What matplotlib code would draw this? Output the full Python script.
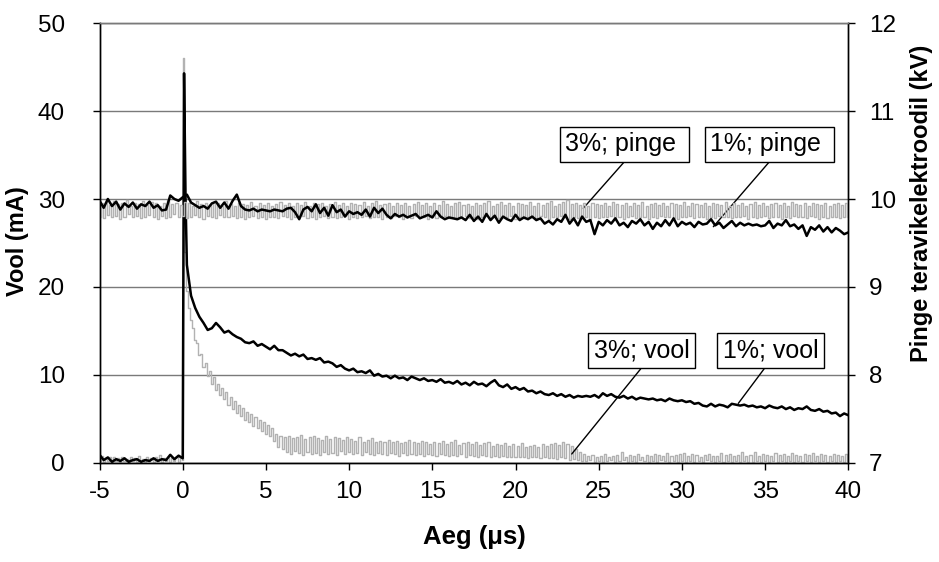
import numpy as np
import matplotlib
matplotlib.use("Agg")
import matplotlib.pyplot as plt

plt.rcParams['font.family'] = ['Liberation Sans', 'DejaVu Sans']
plt.rcParams['axes.unicode_minus'] = False

# ---------------- data ----------------
# sample times (microseconds)
# 1 % series: 0.25 us sampling
t1_cur = np.concatenate([np.arange(-5.0, 0.0, 0.25),      # 20
                         np.array([0.0, 0.08, 0.17]),      # pulse front
                         np.arange(0.25, 40.001, 0.25)])   # 160
t1_volt = np.arange(-5.0, 40.001, 0.25)                    # 181
# 3 % series: 0.125 us sampling
t3_cur = np.concatenate([np.arange(-5.0, 0.0, 0.125),     # 40
                         np.array([0.0, 0.06]),            # pulse front
                         np.arange(0.125, 40.001, 0.125)]) # 320
t3_volt = np.arange(-5.0, 40.001, 0.125)                   # 361

# current, 1 % (mA)
vool_1_pre = [0.9, 0.3, 0.6, 0.1, 0.4, 0.2, 0.5, 0.1, 0.3, 0.4,
              0.1, 0.3, 0.2, 0.5, 0.2, 0.4, 0.3, 0.9, 0.4, 0.8]
vool_1_spike = [0.5, 44.3, 30.0]
vool_1_post = [
    22.5, 19.0, 17.6, 16.6, 15.9, 15.1, 15.3, 15.9,
    15.4, 14.8, 15.0, 14.6, 14.3, 14.1, 13.7, 13.6,
    13.8, 13.3, 13.5, 13.2, 12.9, 13.3, 12.8, 12.8,
    12.5, 12.2, 12.4, 12.1, 12.3, 11.8, 11.9, 11.7,
    11.9, 11.4, 11.5, 11.3, 10.9, 11.1, 10.7, 10.5,
    10.7, 10.3, 10.4, 10.2, 10.5, 9.9, 10.1, 9.8,
    9.9, 9.6, 9.9, 9.6, 9.7, 9.4, 9.8, 9.6,
    9.4, 9.6, 9.3, 9.4, 9.2, 9.5, 9.1, 9.2,
    9.0, 9.3, 8.9, 9.1, 8.8, 9.2, 8.9, 9.0,
    8.7, 9.1, 9.4, 8.8, 8.6, 8.9, 8.4, 8.6,
    8.3, 8.5, 8.1, 8.2, 7.9, 8.1, 7.8, 7.7,
    7.9, 7.6, 7.8, 7.5, 7.7, 7.4, 7.6, 7.5,
    7.6, 7.5, 7.7, 7.4, 7.9, 7.6, 7.8, 7.5,
    7.4, 7.6, 7.3, 7.5, 7.2, 7.4, 7.3, 7.2,
    7.3, 7.1, 7.2, 7.0, 7.3, 7.1, 7.0, 7.1,
    6.9, 7.0, 6.7, 6.8, 6.5, 6.4, 6.7, 6.4,
    6.6, 6.5, 6.3, 6.7, 6.6, 6.5, 6.6, 6.4,
    6.5, 6.3, 6.4, 6.2, 6.5, 6.3, 6.2, 6.4,
    6.1, 6.3, 6.0, 6.2, 6.1, 6.4, 6.0, 5.9,
    6.1, 5.8, 5.9, 5.6, 5.7, 5.3, 5.6, 5.4]

# current, 3 % (mA)
vool_3_pre = [
    0.2, 0.8, 0.1, 0.5, 0.2, 0.7, 0.1, 0.6, 0.2, 0.5, 0.1, 0.7, 0.2, 0.4, 0.1, 0.6,
    0.2, 0.5, 0.1, 0.8, 0.2, 0.4, 0.1, 0.6, 0.2, 0.5, 0.1, 0.7, 0.2, 0.9, 0.1, 0.5,
    0.2, 0.6, 0.1, 0.5, 0.2, 0.7, 0.1, 0.6]
vool_3_spike = [0.3, 46.0]
vool_3_post = [
    24.0, 19.5, 17.6, 16.2, 15.3, 14.0, 13.6, 12.3, 12.4, 10.9, 11.3, 9.9, 10.4, 9.0, 9.7, 8.3,
    9.0, 7.7, 8.5, 7.2, 8.0, 6.6, 7.5, 6.1, 7.0, 5.7, 6.6, 5.3, 6.2, 4.9, 5.8, 4.6,
    5.5, 4.2, 5.2, 3.9, 4.9, 3.6, 4.6, 3.3, 4.3, 3.0, 4.0, 2.5, 3.3, 1.8, 3.0, 1.6,
    2.9, 1.2, 3.0, 1.0, 2.8, 1.3, 2.9, 1.1, 3.1, 0.9, 2.7, 1.2, 2.9, 1.0, 3.0, 1.1,
    2.8, 0.9, 2.6, 1.2, 3.0, 1.0, 2.7, 1.1, 2.9, 0.9, 2.8, 1.3, 2.6, 1.0, 2.9, 1.2,
    2.7, 1.0, 2.5, 1.1, 2.9, 0.9, 2.4, 1.2, 2.6, 1.0, 2.8, 0.9, 2.3, 1.1, 2.5, 1.0,
    2.4, 0.9, 2.6, 1.1, 2.3, 1.0, 2.5, 0.8, 2.2, 1.1, 2.4, 0.9, 2.6, 1.0, 2.3, 0.9,
    2.2, 1.0, 2.5, 0.8, 2.3, 1.0, 2.1, 0.9, 2.4, 0.8, 2.2, 1.0, 2.5, 0.9, 2.1, 0.8,
    2.3, 0.9, 2.6, 0.8, 2.0, 1.0, 2.2, 0.7, 2.4, 0.9, 2.1, 0.8, 2.3, 0.7, 2.0, 0.9,
    2.2, 0.8, 2.3, 0.7, 1.9, 0.8, 2.1, 0.6, 2.0, 0.8, 2.2, 0.7, 1.9, 0.6, 2.1, 0.7,
    1.9, 0.6, 2.2, 0.7, 1.8, 0.5, 1.9, 0.7, 2.0, 0.6, 1.8, 0.5, 2.1, 0.6, 1.9, 0.5,
    2.1, 0.5, 2.2, 0.4, 2.0, 0.6, 2.3, 0.5, 2.1, 0.3, 1.9, 0.4, 1.6, 0.3, 1.2, 0.2,
    1.0, 0.2, 0.8, 0.3, 0.9, 0.1, 0.7, 0.2, 0.8, 0.1, 1.0, 0.2, 0.7, 0.3, 0.8, 0.1,
    0.9, 0.2, 1.2, 0.3, 0.7, 0.1, 0.9, 0.2, 0.8, 0.1, 1.0, 0.3, 0.7, 0.2, 0.9, 0.1,
    0.8, 0.2, 1.0, 0.1, 0.9, 0.3, 0.8, 0.2, 1.1, 0.1, 0.8, 0.2, 0.9, 0.1, 1.0, 0.2,
    1.1, 0.1, 0.8, 0.2, 1.0, 0.1, 0.9, 0.2, 0.7, 0.1, 0.9, 0.3, 1.0, 0.2, 0.8, 0.1,
    0.8, 0.2, 1.1, 0.1, 0.9, 0.2, 1.0, 0.1, 0.8, 0.2, 0.9, 0.1, 1.2, 0.2, 0.8, 0.1,
    0.9, 0.1, 1.2, 0.2, 0.8, 0.1, 1.0, 0.2, 0.9, 0.1, 0.8, 0.2, 1.1, 0.1, 0.9, 0.2,
    1.0, 0.1, 0.8, 0.2, 1.1, 0.1, 0.9, 0.2, 0.8, 0.1, 1.0, 0.2, 0.9, 0.1, 1.1, 0.2,
    0.8, 0.1, 1.0, 0.2, 0.9, 0.1, 0.8, 0.2, 1.0, 0.1, 0.9, 0.2, 0.8, 0.1, 1.0, 0.2]

# voltage, 1 % (kV)
pinge_1 = [
    9.98, 9.90, 10.00, 9.92, 9.97, 9.88, 9.95, 9.91,
    9.96, 9.89, 9.94, 9.92, 9.97, 9.90, 9.93, 9.87,
    9.88, 10.04, 10.00, 9.98, 10.02, 10.05, 9.96, 9.93,
    9.90, 9.92, 9.89, 9.95, 9.97, 9.90, 9.96, 9.89,
    9.98, 10.05, 9.92, 9.88, 9.87, 9.89, 9.86, 9.88,
    9.87, 9.86, 9.88, 9.87, 9.86, 9.89, 9.90, 9.85,
    9.77, 9.88, 9.91, 9.86, 9.94, 9.84, 9.90, 9.81,
    9.93, 9.85, 9.88, 9.80, 9.86, 9.83, 9.85, 9.82,
    9.88, 9.80, 9.90, 9.84, 9.89, 9.82, 9.78, 9.83,
    9.80, 9.82, 9.79, 9.81, 9.83, 9.78, 9.80, 9.82,
    9.79, 9.86, 9.80, 9.77, 9.79, 9.78, 9.77, 9.79,
    9.76, 9.82, 9.75, 9.80, 9.74, 9.83, 9.76, 9.81,
    9.73, 9.80, 9.77, 9.75, 9.82, 9.76, 9.79, 9.77,
    9.80, 9.76, 9.78, 9.72, 9.75, 9.71, 9.77, 9.74,
    9.82, 9.72, 9.78, 9.70, 9.80, 9.74, 9.76, 9.60,
    9.74, 9.70, 9.76, 9.72, 9.78, 9.70, 9.73, 9.68,
    9.75, 9.72, 9.77, 9.70, 9.74, 9.66, 9.73, 9.69,
    9.76, 9.70, 9.78, 9.69, 9.74, 9.71, 9.73, 9.68,
    9.74, 9.71, 9.72, 9.77, 9.70, 9.73, 9.67, 9.71,
    9.75, 9.69, 9.73, 9.70, 9.72, 9.70, 9.71, 9.69,
    9.70, 9.75, 9.67, 9.72, 9.70, 9.76, 9.69, 9.71,
    9.66, 9.70, 9.58, 9.68, 9.65, 9.70, 9.63, 9.68,
    9.62, 9.67, 9.64, 9.60, 9.62]

# voltage, 3 % (kV)
pinge_3 = [
    9.80, 9.95, 9.78, 9.97, 9.82, 9.93, 9.79, 9.98, 9.81, 9.94, 9.77, 9.96, 9.80, 9.99, 9.83, 9.92,
    9.79, 9.96, 9.81, 9.94, 9.78, 9.98, 9.80, 9.93, 9.82, 9.97, 9.79, 9.95, 9.77, 9.92, 9.81, 9.96,
    9.78, 9.99, 9.80, 9.94, 9.83, 9.96, 9.79, 9.93, 9.81, 9.97, 9.78, 9.95, 9.80, 9.92, 9.82, 9.98,
    9.79, 9.94, 9.77, 9.96, 9.81, 9.93, 9.80, 9.97, 9.78, 9.95, 9.82, 9.92, 9.79, 9.98, 9.80, 9.94,
    9.81, 9.92, 9.78, 9.96, 9.80, 9.94, 9.77, 9.93, 9.79, 9.97, 9.81, 9.92, 9.78, 9.95, 9.80, 9.93,
    9.77, 9.96, 9.80, 9.92, 9.79, 9.94, 9.78, 9.97, 9.81, 9.93, 9.79, 9.95, 9.77, 9.92, 9.80, 9.96,
    9.79, 9.93, 9.81, 9.97, 9.78, 9.92, 9.80, 9.95, 9.77, 9.94, 9.79, 9.96, 9.81, 9.92, 9.78, 9.94,
    9.80, 9.97, 9.78, 9.93, 9.79, 9.95, 9.81, 9.92, 9.77, 9.96, 9.80, 9.94, 9.78, 9.93, 9.79, 9.97,
    9.81, 9.92, 9.78, 9.95, 9.80, 9.98, 9.79, 9.93, 9.77, 9.94, 9.80, 9.96, 9.78, 9.92, 9.81, 9.95,
    9.79, 9.93, 9.77, 9.96, 9.80, 9.92, 9.78, 9.94, 9.81, 9.97, 9.79, 9.93, 9.80, 9.95, 9.77, 9.92,
    9.80, 9.96, 9.78, 9.93, 9.79, 9.98, 9.81, 9.94, 9.78, 9.92, 9.80, 9.95, 9.77, 9.97, 9.79, 9.93,
    9.81, 9.94, 9.78, 9.92, 9.80, 9.96, 9.77, 9.93, 9.79, 9.95, 9.81, 9.98, 9.78, 9.92, 9.80, 9.94,
    9.78, 9.97, 9.80, 9.93, 9.79, 9.95, 9.81, 9.92, 9.77, 9.96, 9.80, 9.94, 9.78, 9.93, 9.79, 9.97,
    9.80, 9.92, 9.78, 9.96, 9.81, 9.93, 9.79, 9.95, 9.77, 9.98, 9.80, 9.92, 9.79, 9.94, 9.81, 9.97,
    9.79, 9.99, 9.77, 9.94, 9.80, 9.96, 9.78, 9.93, 9.81, 9.95, 9.79, 9.92, 9.77, 9.96, 9.80, 9.94,
    9.78, 9.93, 9.80, 9.95, 9.79, 9.92, 9.81, 9.97, 9.78, 9.94, 9.80, 9.93, 9.77, 9.96, 9.79, 9.92,
    9.81, 9.95, 9.78, 9.93, 9.80, 9.97, 9.79, 9.92, 9.77, 9.94, 9.80, 9.96, 9.78, 9.93, 9.81, 9.95,
    9.79, 9.92, 9.80, 9.96, 9.78, 9.94, 9.77, 9.93, 9.80, 9.97, 9.79, 9.92, 9.81, 9.95, 9.78, 9.94,
    9.80, 9.93, 9.79, 9.95, 9.77, 9.92, 9.80, 9.96, 9.78, 9.94, 9.81, 9.93, 9.79, 9.97, 9.80, 9.92,
    9.78, 9.96, 9.80, 9.93, 9.79, 9.95, 9.81, 9.92, 9.77, 9.94, 9.80, 9.97, 9.78, 9.93, 9.79, 9.95,
    9.81, 9.92, 9.78, 9.94, 9.80, 9.96, 9.79, 9.93, 9.77, 9.95, 9.80, 9.92, 9.78, 9.97, 9.81, 9.94,
    9.79, 9.93, 9.80, 9.95, 9.78, 9.92, 9.81, 9.96, 9.79, 9.94, 9.77, 9.93, 9.80, 9.95, 9.78, 9.92,
    9.80, 9.94, 9.79, 9.96, 9.78, 9.93, 9.80, 9.95, 9.79]

vool_1 = np.array(vool_1_pre + vool_1_spike + vool_1_post)
vool_3 = np.array(vool_3_pre + vool_3_spike + vool_3_post)

x_ticks = [-5, 0, 5, 10, 15, 20, 25, 30, 35, 40]
y_left_ticks = [0, 10, 20, 30, 40, 50]
y_right_ticks = [7, 8, 9, 10, 11, 12]

labels = ["3%; pinge ", "1%; pinge ", "3%; vool", "1%; vool"]

# ---------------- figure ----------------
GRAY = '#b2b2b2'
fig = plt.figure(figsize=(9.39, 5.62), dpi=100)
ax = fig.add_axes([0.106, 0.1767, 0.7974, 0.782])
ax2 = ax.twinx()

ax.plot(t3_cur, vool_3, color=GRAY, lw=1.0, drawstyle='steps-mid', zorder=2)
ax.plot(t1_cur, vool_1, color='black', lw=1.8, zorder=3)
ax2.plot(t3_volt, pinge_3, color=GRAY, lw=1.0, drawstyle='steps-mid', zorder=2)
ax2.plot(t1_volt, pinge_1, color='black', lw=1.8, zorder=3)

ax.set_xlim(-5, 40)
ax.set_ylim(0, 50)
ax2.set_ylim(7, 12)
ax.set_xticks(x_ticks)
ax.set_yticks(y_left_ticks)
ax2.set_yticks(y_right_ticks)
ax.set_xticklabels([str(v) for v in x_ticks])

ax.grid(axis='y', color='#7a7a7a', lw=1.0)
ax.set_axisbelow(True)
for a in (ax, ax2):
    for s in ('left', 'right', 'bottom'):
        a.spines[s].set_color('black')
        a.spines[s].set_linewidth(1.0)
    a.spines['top'].set_color('#7a7a7a')
    a.spines['top'].set_linewidth(1.0)

ax.tick_params(axis='x', direction='out', length=5, width=1, labelsize=17.5, pad=8)
ax.tick_params(axis='y', direction='out', length=5, width=1, labelsize=17.5, pad=20)
ax2.tick_params(axis='y', direction='out', length=5, width=1, labelsize=17.5, pad=10)

ax.set_xlabel("Aeg (μs)", fontsize=18.5, fontweight='bold')
ax.set_ylabel("Vool (mA)", fontsize=17, fontweight='bold')
ax2.set_ylabel("Pinge teravikelektroodil (kV)", fontsize=17, fontweight='bold')
ax.xaxis.set_label_coords(0.5, -0.169)
ax.xaxis.label.set_verticalalignment('center')
ax.yaxis.set_label_coords(-0.110, 0.505)
ax.yaxis.label.set_verticalalignment('center')
ax.yaxis.label.set_horizontalalignment('center')
ax2.yaxis.set_label_coords(1.098, 0.591)
ax2.yaxis.label.set_verticalalignment('center')
ax2.yaxis.label.set_horizontalalignment('center')

# annotations (positions in data coords of the left axis)
ann = [
    (labels[0], (26.55, 36.23), (24.07, 28.94), 0.54),
    (labels[1], (35.26, 36.23), (31.89, 26.85), 0.54),
    (labels[2], (27.58, 12.71), (23.38, 0.99), 0.54),
    (labels[3], (35.32, 12.71), (33.39, 6.75), 0.48),
]
for txt, xytext, xy, rp in ann:
    ax.annotate(txt, xy=xy, xytext=xytext, textcoords='data',
                ha='center', va='center', fontsize=18, zorder=10,
                bbox=dict(boxstyle='square,pad=0.22', fc='white', ec='black', lw=1.0),
                arrowprops=dict(arrowstyle='-', color='black', lw=1.0,
                                relpos=(rp, 0.0), shrinkA=0, shrinkB=0))

fig.savefig("out.png", dpi=100)
